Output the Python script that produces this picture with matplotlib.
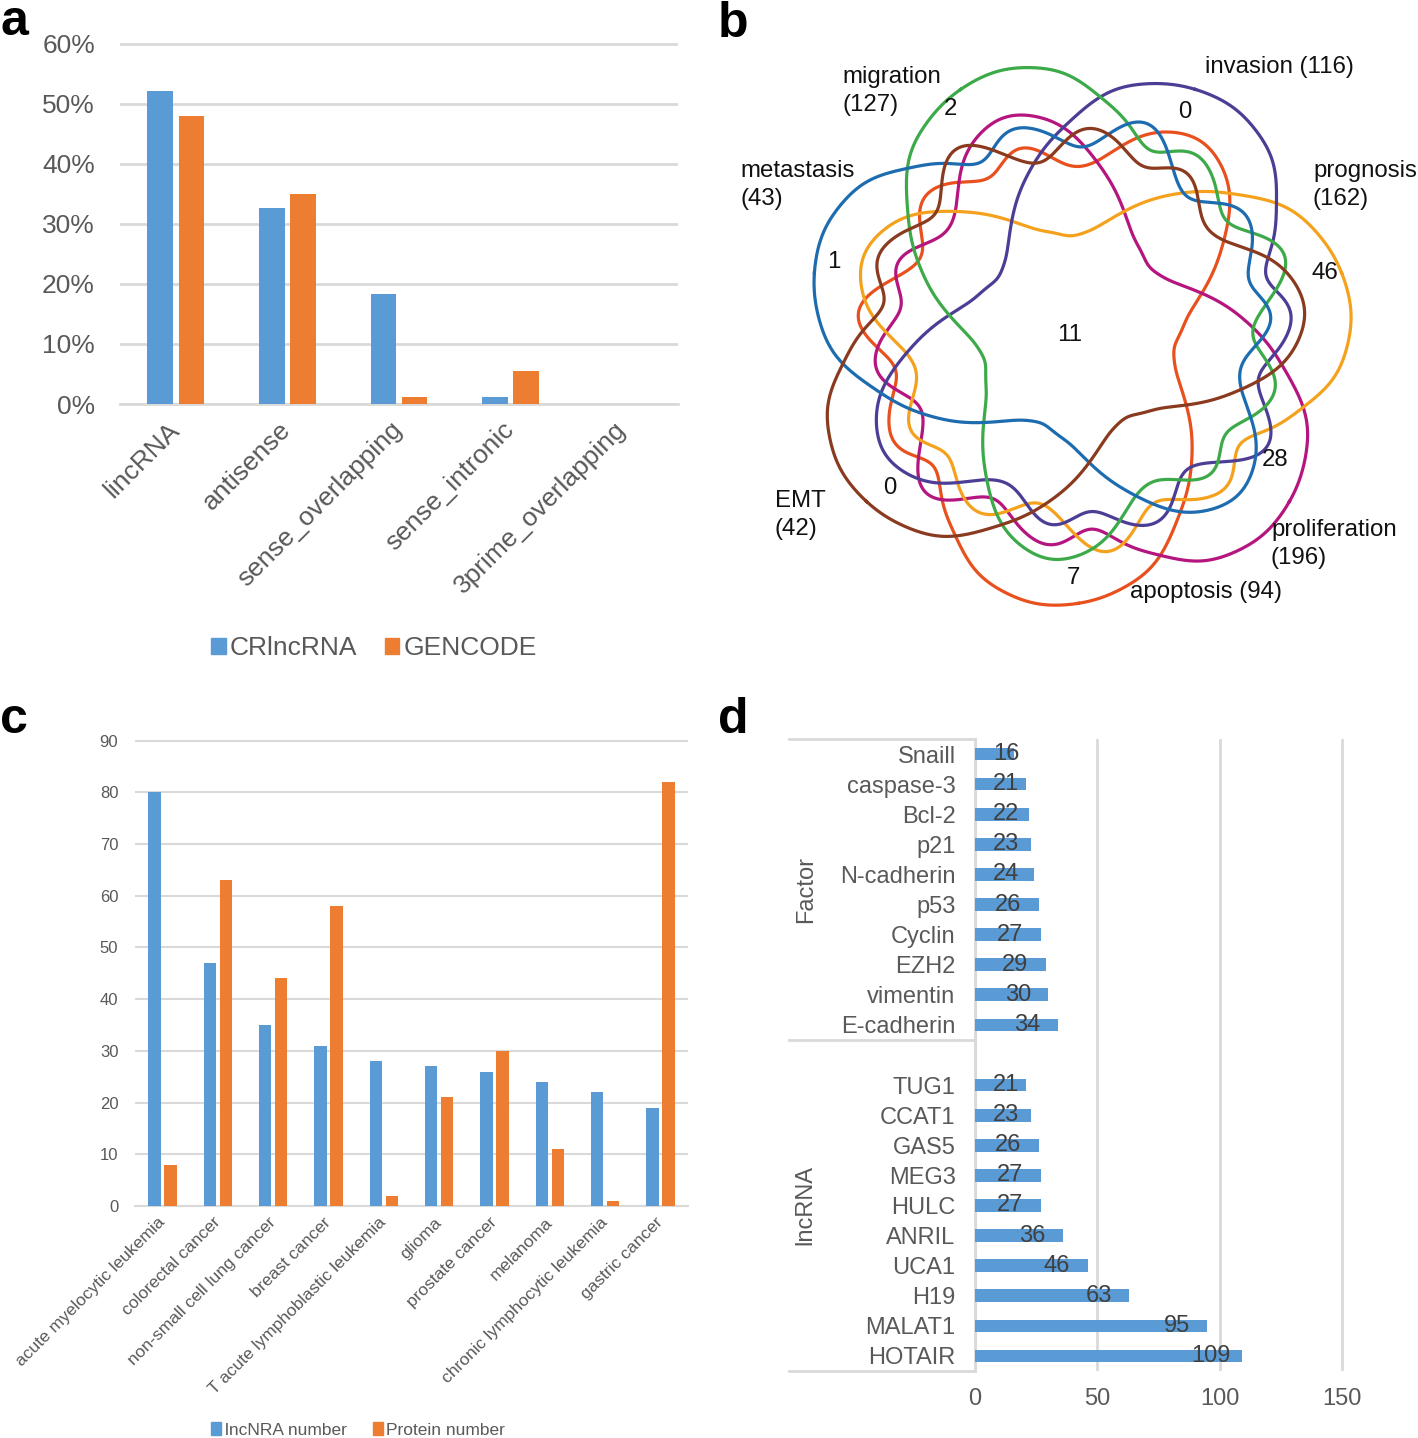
import numpy as np
import matplotlib.pyplot as plt
from matplotlib.patches import Patch
from matplotlib import transforms

plt.rcParams['font.family'] = ['Liberation Sans', 'DejaVu Sans']

# ---- data ----
a_types = ["lincRNA", "antisense", "sense_overlapping", "sense_intronic", "3prime_overlapping"]
a_crlncrna = [52.2, 32.6, 18.3, 1.1, 0.0]
a_gencode = [47.9, 35.0, 1.1, 5.5, 0.0]

venn_sets = ["apoptosis", "proliferation", "prognosis", "invasion", "migration", "metastasis", "EMT"]
venn_sizes = [94, 196, 162, 116, 127, 43, 42]
venn_only = [7, 28, 46, 0, 2, 1, 0]
venn_all = 11

c_cancers = ["acute myelocytic leukemia", "colorectal cancer", "non-small cell lung cancer",
             "breast cancer", "T acute lymphoblastic leukemia", "glioma", "prostate cancer",
             "melanoma", "chronic lymphocytic leukemia", "gastric cancer"]
c_lncrna = [80, 47, 35, 31, 28, 27, 26, 24, 22, 19]
c_protein = [8, 63, 44, 58, 2, 21, 30, 11, 1, 82]

d_factors = ["Snaill", "caspase-3", "Bcl-2", "p21", "N-cadherin", "p53", "Cyclin",
             "EZH2", "vimentin", "E-cadherin"]
d_factor_n = [16, 21, 22, 23, 24, 26, 27, 29, 30, 34]
d_lncrnas = ["TUG1", "CCAT1", "GAS5", "MEG3", "HULC", "ANRIL", "UCA1", "H19", "MALAT1", "HOTAIR"]
d_lncrna_n = [21, 23, 26, 27, 27, 36, 46, 63, 95, 109]

# outline of one Venn curve in polar form (degrees from its lobe, radius),
# read twice (from two of the curves) and averaged; it is copied round 7 times
shape1_t = [7, 14.9, 22.6, 29.5, 35.5, 43.8, 52.7, 62.9, 74.6, 86, 97.1, 106.4, 113.4, 121.8,
            129.2, 135.2, 143.2, 150.4, 158.3, 166, 172.2, 179.3, 185.5, 197.3, 211.3, 223.8,
            234.5, 238.8, 242.7, 250.2, 259.3, 263.3, 266.6, 272, 278.5, 281.7, 286.3, 291.5,
            297.6, 304.1, 310.5, 314.1, 319.8, 328, 335.9, 344.1, 351.8, 359.8]
shape1_r = [262, 253, 231, 206, 189, 166, 144, 118, 101, 97, 106, 127, 152, 176, 198, 216, 232,
            233, 222, 202, 185, 169, 180, 202, 182, 209, 194, 179, 174, 186, 214, 222, 219, 201,
            183, 182, 192, 202, 209, 203, 190, 192, 210, 229, 248, 260, 267, 267]
shape2_t = [4.4, 14.5, 20.1, 26.2, 32.5, 38.9, 45, 52.4, 62.8, 71.7, 81.3, 93.2, 100.2, 109.7,
            117.7, 124.6, 130.6, 135.9, 142.2, 148.3, 154, 159.7, 165.7, 170.8, 179.5, 185.9,
            190.6, 193.8, 197.7, 201, 206.1, 214.7, 221.5, 228.2, 232.8, 240.3, 245.5, 250.5,
            256, 261.3, 265.8, 269.2, 274, 278.4, 283.2, 287.4, 293.3, 299, 303.7, 307.4, 311.5,
            314.3, 321.7, 328.1, 334.4, 341, 348.7, 357.1]
shape2_r = [269, 251, 237, 217, 199, 179, 160, 136, 110, 98, 96, 108, 114, 131, 151, 176, 198,
            211, 219, 223, 218, 208, 190, 169, 160, 163, 175, 182, 190, 184, 174, 178, 194, 207,
            202, 180, 171, 178, 197, 215, 222, 221, 208, 195, 187, 190, 208, 219, 220, 212, 201,
            201, 220, 241, 262, 277, 282, 278]

BLUE = "#5B9BD5"
ORANGE = "#ED7D31"
GRID = "#D9D9D9"
TXT = "#595959"
venn_colors = ["#E8501E", "#B5157E", "#F4A21E", "#4D3E95", "#3DAA4A", "#1D6CB0", "#8A3A1F"]

W, H = 1418, 1438
fig = plt.figure(figsize=(W / 100, H / 100), dpi=100)

def px_axes(left, top, right, bottom):
    return fig.add_axes([left / W, 1 - bottom / H, (right - left) / W, (bottom - top) / H])

# --- panel a ---
axa = px_axes(120, 42, 678, 404)
x = np.arange(len(a_types))
axa.bar(x - 0.14, a_crlncrna, 0.23, color=BLUE, zorder=3)
axa.bar(x + 0.14, a_gencode, 0.23, color=ORANGE, zorder=3)
axa.set_xlim(-0.5, len(a_types) - 0.5)
axa.set_ylim(0, 60.3)
axa.set_yticks(range(0, 61, 10))
axa.set_yticklabels([f"{v}%" for v in range(0, 61, 10)])
axa.set_xticks(x)
axa.set_xticklabels(a_types, rotation=45, ha="right", va="center", rotation_mode="anchor")
axa.yaxis.grid(True, color=GRID, lw=2, zorder=0)
for s in ["top", "right", "left"]:
    axa.spines[s].set_visible(False)
axa.spines["bottom"].set_color(GRID)
axa.spines["bottom"].set_linewidth(2)
axa.tick_params(axis="y", length=0, labelsize=19, labelcolor=TXT, pad=18)
axa.tick_params(axis="x", length=0, labelsize=19, labelcolor=TXT, pad=16)
fig.legend([Patch(color=BLUE), Patch(color=ORANGE)], ["CRlncRNA", "GENCODE"],
           loc="center", bbox_to_anchor=(374 / W, 1 - 648 / H), ncol=2, frameon=False,
           fontsize=19, labelcolor=TXT, handlelength=0.55, handleheight=0.55,
           handletextpad=0.15, columnspacing=1.05)

# --- panel b: 7-set Venn ---
axb = px_axes(720, 0, 1418, 620)
axb.set_xlim(-358, 340)
axb.set_ylim(-287, 333)
axb.axis("off")
tt = np.linspace(0, 360, 1440, endpoint=False)
r_lin = 0.5 * (np.interp(tt, shape1_t, shape1_r, period=360)
               + np.interp(tt, shape2_t, shape2_r, period=360))
spec = np.fft.rfft(r_lin)
spec[26:] = 0
r_s = np.fft.irfft(spec, n=len(tt))
for k, col in enumerate(venn_colors):
    th = np.radians(tt - 90 + k * 360 / 7)
    xs, ys = r_s * np.cos(th), r_s * np.sin(th)
    axb.plot(np.append(xs, xs[0]), np.append(ys, ys[0]), color=col, lw=2.3)

name_xy = [(52, -259), (193, -211), (235, 148), (127, 266), (-236, 242), (-338, 148), (-303, -182)]
count_xy = [(-5, -245), (197, -127), (247, 60), (107, 221), (-128, 224), (-244, 71), (-188, -155)]
one_line = {"apoptosis", "invasion"}
for name, size, n, (lx, ly), (cx, cy) in zip(venn_sets, venn_sizes, venn_only, name_xy, count_xy):
    sep = " " if name in one_line else "\n"
    axb.text(lx, ly, f"{name}{sep}({size})", ha="left", va="center", fontsize=17.3,
             linespacing=1.3, color="#111111")
    axb.text(cx, cy, str(n), ha="center", va="center", fontsize=17.3, color="#111111")
axb.text(-8, -2, str(venn_all), ha="center", va="center", fontsize=17.3, color="#111111")

# --- panel c ---
axc = px_axes(135, 739, 688, 1206)
x = np.arange(len(c_cancers))
axc.bar(x - 0.145, c_lncrna, 0.225, color=BLUE, zorder=3)
axc.bar(x + 0.145, c_protein, 0.225, color=ORANGE, zorder=3)
axc.set_xlim(-0.5, len(c_cancers) - 0.5)
axc.set_ylim(0, 90.3)
axc.set_yticks(range(0, 91, 10))
axc.set_xticks(x)
axc.set_xticklabels(c_cancers, rotation=45, ha="right", va="center", rotation_mode="anchor")
axc.yaxis.grid(True, color=GRID, lw=1.5, zorder=0)
for s in ["top", "right", "left"]:
    axc.spines[s].set_visible(False)
axc.spines["bottom"].set_color(GRID)
axc.spines["bottom"].set_linewidth(1.5)
axc.tick_params(axis="y", length=0, labelsize=12, labelcolor=TXT, pad=12)
axc.tick_params(axis="x", length=0, labelsize=12.5, labelcolor=TXT, pad=10)
fig.legend([Patch(color=BLUE), Patch(color=ORANGE)], ["lncNRA number", "Protein number"],
           loc="center", bbox_to_anchor=(358 / W, 1 - 1430 / H), ncol=2, frameon=False,
           fontsize=12.5, labelcolor=TXT, handlelength=0.6, handleheight=0.7,
           handletextpad=0.2, columnspacing=1.5)

# --- panel d ---
axd = px_axes(975, 739, 975 + 152 * 367 / 150, 1371)
slots_f = np.arange(len(d_factors))
slots_l = np.arange(len(d_lncrnas)) + len(d_factors) + 1
axd.barh(slots_f, d_factor_n, 0.42, color=BLUE, zorder=3)
axd.barh(slots_l, d_lncrna_n, 0.42, color=BLUE, zorder=3)
axd.set_xlim(0, 152)
axd.set_ylim(slots_l[-1] + 0.5, -0.5)
axd.set_xticks([0, 50, 100, 150])
axd.set_yticks(list(slots_f) + list(slots_l))
axd.set_yticklabels(d_factors + d_lncrnas)
axd.xaxis.grid(True, color=GRID, lw=2, zorder=0)
for s in ["top", "right", "bottom"]:
    axd.spines[s].set_visible(False)
axd.spines["left"].set_color(GRID)
axd.spines["left"].set_linewidth(2)
axd.tick_params(axis="y", length=0, labelsize=17, labelcolor=TXT, pad=14)
axd.tick_params(axis="x", length=0, labelsize=17, labelcolor=TXT, pad=12)
for s, v in zip(list(slots_f) + list(slots_l), d_factor_n + d_lncrna_n):
    axd.text(max(v - 12.5, 12.7), s, str(v), ha="center", va="center", fontsize=17,
             color="#404040", zorder=4)
trans = transforms.blended_transform_factory(axd.transAxes, axd.transData)
for yb in [-0.5, len(d_factors) - 0.5, slots_l[-1] + 0.5]:
    axd.plot([-0.5, 0], [yb, yb], transform=trans, color=GRID, lw=2, clip_on=False)
axd.text(-0.455, (len(d_factors) - 1) / 2, "Factor", transform=trans, rotation=90,
         ha="center", va="center", fontsize=17, color=TXT)
axd.text(-0.455, (slots_l[0] - 1 + slots_l[-1]) / 2, "lncRNA", transform=trans, rotation=90,
         ha="center", va="center", fontsize=17, color=TXT)

# --- panel letters ---
for lab, px, py in [("a", 0, 35), ("b", 718, 37), ("c", 0, 733), ("d", 718, 733)]:
    fig.text(px / W, 1 - py / H, lab, fontsize=36, fontweight="bold", va="baseline")

fig.savefig("out.png", dpi=100)
